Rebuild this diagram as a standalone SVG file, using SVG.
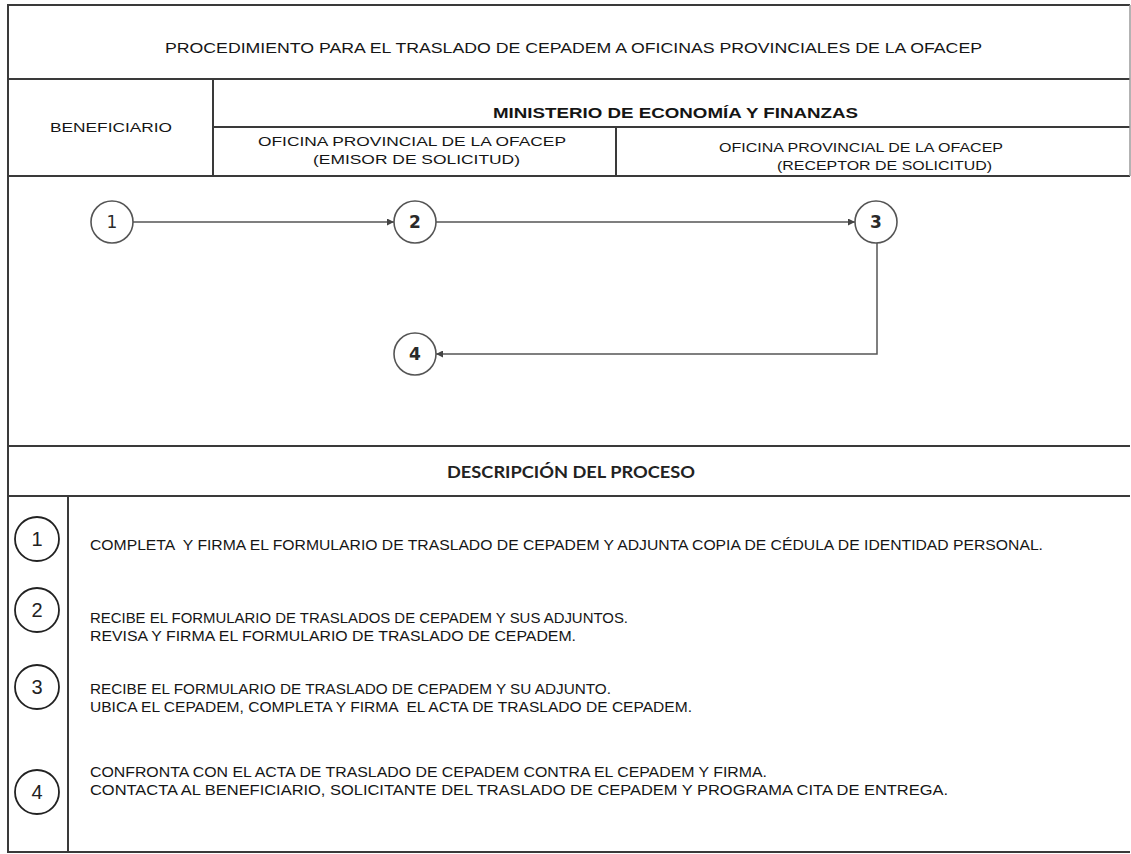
<svg xmlns="http://www.w3.org/2000/svg" width="1131" height="854" viewBox="0 0 1131 854">
<defs>
<style>
.ln{stroke:#3a3a3a;stroke-width:2;fill:none}
.lt{stroke:#9a9a9a;stroke-width:1.5;fill:none}
.t{font-family:"Liberation Sans",Arial,sans-serif;fill:#151515}
.hd{font-size:15px}
.hs{font-size:13.5px}
.b{font-weight:bold}
.ds{font-size:14px}
.dh{font-family:Lato,"Open Sans",sans-serif;font-weight:bold;font-size:17px;fill:#222}
.nc{fill:#fff;stroke:#555;stroke-width:1.6}
.dc{fill:#fff;stroke:#222;stroke-width:1.8}
.nt{font-family:"DejaVu Sans","Liberation Sans",sans-serif;font-size:17px;fill:#2a2a2a;text-anchor:middle}
.dt{font-family:"Liberation Sans",Arial,sans-serif;font-size:20px;fill:#222;text-anchor:middle}
.cn{stroke:#555;stroke-width:1.5;fill:none;marker-end:url(#arr)}
</style>
<marker id="arr" viewBox="0 0 10 10" refX="10" refY="5" markerWidth="7" markerHeight="7" markerUnits="userSpaceOnUse" orient="auto">
<path d="M0,0 L10,5 L0,10 z" fill="#444"/>
</marker>
</defs>
<rect width="1131" height="854" fill="#fff"/>
<g id="table">
<line class="ln" x1="8" y1="5" x2="1130" y2="5"/>
<line class="ln" x1="8" y1="79" x2="1130" y2="79"/>
<line class="ln" x1="213" y1="127" x2="1130" y2="127"/>
<line class="ln" x1="8" y1="176" x2="1130" y2="176"/>
<line class="ln" x1="8" y1="446" x2="1130" y2="446"/>
<line class="ln" x1="8" y1="496" x2="1130" y2="496"/>
<line class="ln" x1="8" y1="852" x2="1130" y2="852"/>
<line class="ln" x1="8" y1="4" x2="8" y2="853"/>
<line class="ln" x1="213" y1="79" x2="213" y2="176"/>
<line class="ln" x1="616" y1="127" x2="616" y2="176"/>
<line class="ln" x1="68" y1="496" x2="68" y2="852"/>
<line class="lt" x1="1130" y1="5" x2="1130" y2="176"/>
</g>
<g id="headers">
<text class="t hd" x="165" y="53" textLength="817" lengthAdjust="spacingAndGlyphs">PROCEDIMIENTO PARA EL TRASLADO DE CEPADEM A OFICINAS PROVINCIALES DE LA OFACEP</text>
<text class="t hs" x="50" y="132" textLength="122" lengthAdjust="spacingAndGlyphs">BENEFICIARIO</text>
<text class="t hd b" x="493" y="118" textLength="365" lengthAdjust="spacingAndGlyphs">MINISTERIO DE ECONOMÍA Y FINANZAS</text>
<text class="t hs" x="258" y="146" textLength="308" lengthAdjust="spacingAndGlyphs">OFICINA PROVINCIAL DE LA OFACEP</text>
<text class="t hs" x="313" y="164" textLength="207" lengthAdjust="spacingAndGlyphs">(EMISOR DE SOLICITUD)</text>
<text class="t hs" x="719" y="152" textLength="284" lengthAdjust="spacingAndGlyphs">OFICINA PROVINCIAL DE LA OFACEP</text>
<text class="t hs" x="777" y="170" textLength="215" lengthAdjust="spacingAndGlyphs">(RECEPTOR DE SOLICITUD)</text>
<text class="dh" x="447" y="478" textLength="248" lengthAdjust="spacingAndGlyphs">DESCRIPCIÓN DEL PROCESO</text>
</g>
<g id="connectors">
<line class="cn" x1="133" y1="222" x2="394" y2="222"/>
<line class="cn" x1="436" y1="222" x2="855" y2="222"/>
<polyline class="cn" points="877,243 877,354 436,354"/>
</g>
<g id="node1"><circle class="nc" cx="112" cy="222" r="21"/><text class="nt" x="112" y="228">1</text></g>
<g id="node2"><circle class="nc" cx="415" cy="222" r="21"/><text class="nt" x="415" y="228" font-weight="600">2</text></g>
<g id="node3"><circle class="nc" cx="876" cy="222" r="21"/><text class="nt" x="876" y="228" font-weight="bold">3</text></g>
<g id="node4"><circle class="nc" cx="415" cy="354" r="21"/><text class="nt" x="415" y="360" font-weight="bold">4</text></g>
<g id="desc1">
<circle class="dc" cx="37" cy="539" r="22"/><text class="dt" x="37" y="546">1</text>
<text class="t ds" x="90" y="550" xml:space="preserve" textLength="953" lengthAdjust="spacingAndGlyphs">COMPLETA  Y FIRMA EL FORMULARIO DE TRASLADO DE CEPADEM Y ADJUNTA COPIA DE CÉDULA DE IDENTIDAD PERSONAL.</text>
</g>
<g id="desc2">
<circle class="dc" cx="37" cy="610" r="22"/><text class="dt" x="37" y="617">2</text>
<text class="t ds" x="90" y="623" textLength="538" lengthAdjust="spacingAndGlyphs">RECIBE EL FORMULARIO DE TRASLADOS DE CEPADEM Y SUS ADJUNTOS.</text>
<text class="t ds" x="90" y="641" textLength="486" lengthAdjust="spacingAndGlyphs">REVISA Y FIRMA EL FORMULARIO DE TRASLADO DE CEPADEM.</text>
</g>
<g id="desc3">
<circle class="dc" cx="37" cy="687" r="22"/><text class="dt" x="37" y="694">3</text>
<text class="t ds" x="90" y="694" textLength="521" lengthAdjust="spacingAndGlyphs">RECIBE EL FORMULARIO DE TRASLADO DE CEPADEM Y SU ADJUNTO.</text>
<text class="t ds" x="90" y="712" xml:space="preserve" textLength="602" lengthAdjust="spacingAndGlyphs">UBICA EL CEPADEM, COMPLETA Y FIRMA  EL ACTA DE TRASLADO DE CEPADEM.</text>
</g>
<g id="desc4">
<circle class="dc" cx="37" cy="792" r="22"/><text class="dt" x="37" y="799">4</text>
<text class="t ds" x="90" y="777" textLength="677" lengthAdjust="spacingAndGlyphs">CONFRONTA CON EL ACTA DE TRASLADO DE CEPADEM CONTRA EL CEPADEM Y FIRMA.</text>
<text class="t ds" x="90" y="795" textLength="858" lengthAdjust="spacingAndGlyphs">CONTACTA AL BENEFICIARIO, SOLICITANTE DEL TRASLADO DE CEPADEM Y PROGRAMA CITA DE ENTREGA.</text>
</g>
</svg>
